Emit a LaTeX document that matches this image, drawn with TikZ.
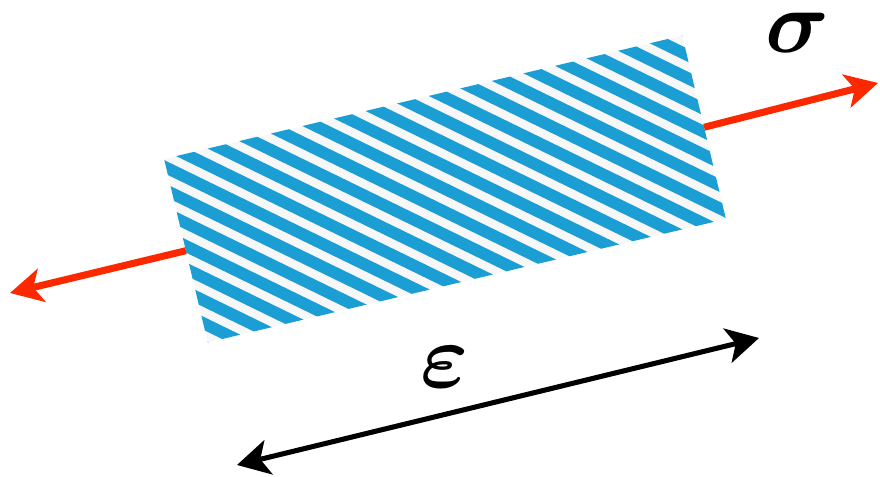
\documentclass[tikz,border=0pt]{standalone}
\usepackage{amsmath,amssymb}
\usetikzlibrary{arrows.meta}
\definecolor{stripeblue}{RGB}{27,158,212}
\definecolor{forcered}{RGB}{252,40,0}

\begin{document}
\begin{tikzpicture}[x=0.025cm, y=0.025cm,
  bar/.style={fill=white!97!black, inner sep=0pt, minimum width=13.3cm, minimum height=4.7cm, rotate=13.4},
  stripe/.style={stripeblue, line width=8.4pt},
  force/.style={forcered, line width=5pt, -{Stealth[length=23pt, width=24pt, inset=6pt]}},
  strain/.style={black, line width=3.6pt, {Stealth[length=23pt, width=25pt, inset=6pt]}-{Stealth[length=23pt, width=25pt, inset=6pt]}},
  lbl/.style={inner sep=0pt}]
\useasboundingbox (0,0) rectangle (880,477);
% striped bar
\node[bar] (bar) at (445,288) {};
\begin{scope}
  \clip (bar.north west) -- (bar.north east) -- (bar.south east) -- (bar.south west) -- cycle;
  \begin{scope}[shift={(bar.center)}, rotate=-26]
    \foreach \k in {-22,...,22} \draw[stripe] (-450,20.6*\k) -- (450,20.6*\k);
  \end{scope}
\end{scope}
% loads
\coordinate (tipR) at (878,394);
\coordinate (tipL) at (10,184);
\draw[force] (bar.east) -- (tipR);
\draw[force] (bar.west) -- (tipL);
\node[lbl, scale=6.3] (sig) at (798,444) {$\boldsymbol{\sigma}$};
% elongation
\coordinate (epsL) at (237,12);
\coordinate (epsR) at (759,139);
\draw[strain] (epsL) -- (epsR);
\node[lbl, scale=6.5] (eps) at (445,110) {$\boldsymbol{\varepsilon}$};
\end{tikzpicture}
\end{document}
